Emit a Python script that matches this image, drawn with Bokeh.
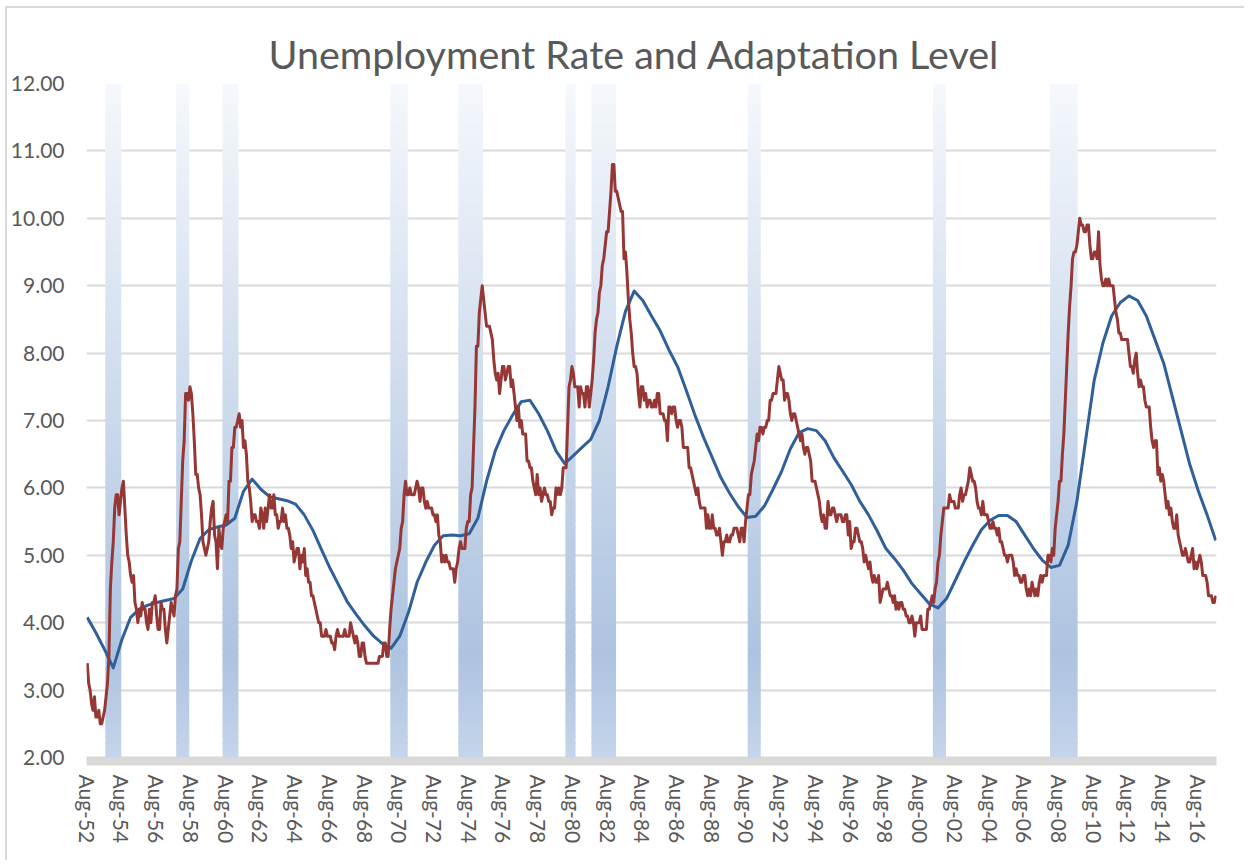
import math
from bokeh.plotting import figure
from bokeh.models import FixedTicker, Range1d, ColumnDataSource, NumeralTickFormatter
from bokeh.embed import file_html
from bokeh.resources import INLINE

title_text = "Unemployment Rate and Adaptation Level"

tick_labels = ["Aug-52", "Aug-54", "Aug-56", "Aug-58", "Aug-60", "Aug-62", "Aug-64",
               "Aug-66", "Aug-68", "Aug-70", "Aug-72", "Aug-74", "Aug-76", "Aug-78",
               "Aug-80", "Aug-82", "Aug-84", "Aug-86", "Aug-88", "Aug-90", "Aug-92",
               "Aug-94", "Aug-96", "Aug-98", "Aug-00", "Aug-02", "Aug-04", "Aug-06",
               "Aug-08", "Aug-10", "Aug-12", "Aug-14", "Aug-16"]
y_ticks = [2, 3, 4, 5, 6, 7, 8, 9, 10, 11, 12]

# Monthly unemployment rate, Aug-52 .. Aug-17
unemployment_rate = [
    3.4, 3.1, 3.0, 2.8, 2.7,                                        # 1952 Aug-Dec
    2.9, 2.6, 2.6, 2.7, 2.5, 2.5, 2.6, 2.7, 2.9, 3.1, 3.5, 4.5,     # 1953
    4.9, 5.2, 5.7, 5.9, 5.9, 5.6, 5.8, 6.0, 6.1, 5.7, 5.3, 5.0,     # 1954
    4.9, 4.7, 4.6, 4.7, 4.3, 4.2, 4.0, 4.2, 4.1, 4.3, 4.2, 4.2,     # 1955
    4.0, 3.9, 4.2, 4.0, 4.3, 4.3, 4.4, 4.1, 3.9, 3.9, 4.3, 4.2,     # 1956
    4.2, 3.9, 3.7, 3.9, 4.1, 4.3, 4.2, 4.1, 4.4, 4.5, 5.1, 5.2,     # 1957
    5.8, 6.4, 6.7, 7.4, 7.4, 7.3, 7.5, 7.4, 7.1, 6.7, 6.2, 6.2,     # 1958
    6.0, 5.9, 5.6, 5.2, 5.1, 5.0, 5.1, 5.2, 5.5, 5.7, 5.8, 5.3,     # 1959
    5.2, 4.8, 5.4, 5.2, 5.1, 5.4, 5.5, 5.6, 5.5, 6.1, 6.1, 6.6,     # 1960
    6.6, 6.9, 6.9, 7.0, 7.1, 6.9, 7.0, 6.6, 6.7, 6.5, 6.1, 6.0,     # 1961
    5.8, 5.5, 5.6, 5.6, 5.5, 5.5, 5.4, 5.7, 5.6, 5.4, 5.7, 5.5,     # 1962
    5.7, 5.9, 5.7, 5.7, 5.9, 5.6, 5.6, 5.4, 5.5, 5.5, 5.7, 5.5,     # 1963
    5.6, 5.4, 5.4, 5.3, 5.1, 5.2, 4.9, 5.0, 5.1, 5.1, 4.8, 5.0,     # 1964
    4.9, 5.1, 4.7, 4.8, 4.6, 4.6, 4.4, 4.4, 4.3, 4.2, 4.1, 4.0,     # 1965
    4.0, 3.8, 3.8, 3.8, 3.9, 3.8, 3.8, 3.8, 3.7, 3.7, 3.6, 3.8,     # 1966
    3.9, 3.8, 3.8, 3.8, 3.8, 3.9, 3.8, 3.8, 3.8, 4.0, 3.9, 3.8,     # 1967
    3.7, 3.8, 3.7, 3.5, 3.5, 3.7, 3.7, 3.5, 3.4, 3.4, 3.4, 3.4,     # 1968
    3.4, 3.4, 3.4, 3.4, 3.4, 3.5, 3.5, 3.5, 3.7, 3.7, 3.5, 3.5,     # 1969
    3.9, 4.2, 4.4, 4.6, 4.8, 4.9, 5.0, 5.1, 5.4, 5.5, 5.9, 6.1,     # 1970
    5.9, 5.9, 6.0, 5.9, 5.9, 5.9, 6.0, 6.1, 6.0, 5.8, 6.0, 6.0,     # 1971
    5.8, 5.7, 5.8, 5.7, 5.7, 5.7, 5.6, 5.6, 5.5, 5.6, 5.3, 5.2,     # 1972
    4.9, 5.0, 4.9, 5.0, 4.9, 4.9, 4.8, 4.8, 4.8, 4.6, 4.8, 4.9,     # 1973
    5.1, 5.2, 5.1, 5.1, 5.1, 5.4, 5.5, 5.5, 5.9, 6.0, 6.6, 7.2,     # 1974
    8.1, 8.1, 8.6, 8.8, 9.0, 8.8, 8.6, 8.4, 8.4, 8.4, 8.3, 8.2,     # 1975
    7.9, 7.7, 7.6, 7.7, 7.4, 7.6, 7.8, 7.8, 7.6, 7.7, 7.8, 7.8,     # 1976
    7.5, 7.6, 7.4, 7.2, 7.0, 7.2, 6.9, 7.0, 6.8, 6.8, 6.8, 6.4,     # 1977
    6.4, 6.3, 6.3, 6.1, 6.0, 5.9, 6.2, 5.9, 6.0, 5.8, 5.9, 6.0,     # 1978
    5.9, 5.9, 5.8, 5.8, 5.6, 5.7, 5.7, 6.0, 5.9, 6.0, 5.9, 6.0,     # 1979
    6.3, 6.3, 6.3, 6.9, 7.5, 7.6, 7.8, 7.7, 7.5, 7.5, 7.5, 7.2,     # 1980
    7.5, 7.4, 7.4, 7.2, 7.5, 7.5, 7.2, 7.4, 7.6, 7.9, 8.3, 8.5,     # 1981
    8.6, 8.9, 9.0, 9.3, 9.4, 9.6, 9.8, 9.8, 10.1, 10.4, 10.8, 10.8, # 1982
    10.4, 10.4, 10.3, 10.2, 10.1, 10.1, 9.4, 9.5, 9.2, 8.8, 8.5, 8.3,  # 1983
    8.0, 7.8, 7.8, 7.7, 7.4, 7.2, 7.5, 7.5, 7.3, 7.4, 7.2, 7.3,     # 1984
    7.3, 7.2, 7.2, 7.3, 7.2, 7.4, 7.4, 7.1, 7.1, 7.1, 7.0, 7.0,     # 1985
    6.7, 7.2, 7.2, 7.1, 7.2, 7.2, 7.0, 6.9, 7.0, 7.0, 6.9, 6.6,     # 1986
    6.6, 6.6, 6.6, 6.3, 6.3, 6.2, 6.1, 6.0, 5.9, 6.0, 5.8, 5.7,     # 1987
    5.7, 5.7, 5.7, 5.4, 5.6, 5.4, 5.4, 5.6, 5.4, 5.4, 5.3, 5.3,     # 1988
    5.4, 5.2, 5.0, 5.2, 5.2, 5.3, 5.2, 5.2, 5.3, 5.3, 5.4, 5.4,     # 1989
    5.4, 5.3, 5.2, 5.4, 5.4, 5.2, 5.5, 5.7, 5.9, 5.9, 6.2, 6.3,     # 1990
    6.4, 6.6, 6.8, 6.7, 6.9, 6.9, 6.8, 6.9, 6.9, 7.0, 7.0, 7.3,     # 1991
    7.3, 7.4, 7.4, 7.4, 7.6, 7.8, 7.7, 7.6, 7.6, 7.3, 7.4, 7.4,     # 1992
    7.3, 7.1, 7.0, 7.1, 7.1, 7.0, 6.9, 6.8, 6.7, 6.8, 6.6, 6.5,     # 1993
    6.6, 6.6, 6.5, 6.4, 6.1, 6.1, 6.1, 6.0, 5.9, 5.8, 5.6, 5.5,     # 1994
    5.6, 5.4, 5.4, 5.8, 5.6, 5.6, 5.7, 5.7, 5.6, 5.5, 5.6, 5.6,     # 1995
    5.6, 5.5, 5.5, 5.6, 5.6, 5.3, 5.5, 5.1, 5.2, 5.2, 5.4, 5.4,     # 1996
    5.3, 5.2, 5.2, 5.1, 4.9, 5.0, 4.9, 4.8, 4.9, 4.7, 4.6, 4.7,     # 1997
    4.6, 4.6, 4.7, 4.3, 4.4, 4.5, 4.5, 4.5, 4.6, 4.5, 4.4, 4.4,     # 1998
    4.3, 4.4, 4.2, 4.3, 4.2, 4.3, 4.3, 4.2, 4.2, 4.1, 4.1, 4.0,     # 1999
    4.0, 4.1, 4.0, 3.8, 4.0, 4.0, 4.0, 4.1, 3.9, 3.9, 3.9, 3.9,     # 2000
    4.2, 4.2, 4.3, 4.4, 4.3, 4.5, 4.6, 4.9, 5.0, 5.3, 5.5, 5.7,     # 2001
    5.7, 5.7, 5.7, 5.9, 5.8, 5.8, 5.8, 5.7, 5.7, 5.7, 5.9, 6.0,     # 2002
    5.8, 5.9, 5.9, 6.0, 6.1, 6.3, 6.2, 6.1, 6.1, 6.0, 5.8, 5.7,     # 2003
    5.7, 5.6, 5.8, 5.6, 5.6, 5.6, 5.5, 5.4, 5.4, 5.5, 5.4, 5.4,     # 2004
    5.3, 5.4, 5.2, 5.2, 5.1, 5.0, 5.0, 4.9, 5.0, 5.0, 5.0, 4.9,     # 2005
    4.7, 4.8, 4.7, 4.7, 4.6, 4.6, 4.7, 4.7, 4.5, 4.4, 4.5, 4.4,     # 2006
    4.6, 4.5, 4.4, 4.5, 4.4, 4.6, 4.7, 4.6, 4.7, 4.7, 4.7, 5.0,     # 2007
    5.0, 4.9, 5.1, 5.0, 5.4, 5.6, 5.8, 6.1, 6.1, 6.5, 6.8, 7.3,     # 2008
    7.8, 8.3, 8.7, 9.0, 9.4, 9.5, 9.5, 9.6, 9.8, 10.0, 9.9, 9.9,    # 2009
    9.8, 9.8, 9.9, 9.9, 9.6, 9.4, 9.4, 9.5, 9.5, 9.4, 9.8, 9.3,     # 2010
    9.1, 9.0, 9.0, 9.1, 9.0, 9.1, 9.0, 9.0, 9.0, 8.8, 8.6, 8.5,     # 2011
    8.3, 8.3, 8.2, 8.2, 8.2, 8.2, 8.2, 8.0, 7.8, 7.8, 7.7, 7.9,     # 2012
    8.0, 7.7, 7.5, 7.6, 7.5, 7.5, 7.3, 7.2, 7.2, 7.2, 6.9, 6.7,     # 2013
    6.6, 6.7, 6.7, 6.2, 6.3, 6.1, 6.2, 6.1, 5.9, 5.7, 5.8, 5.6,     # 2014
    5.7, 5.5, 5.4, 5.4, 5.6, 5.3, 5.2, 5.1, 5.0, 5.0, 5.1, 5.0,     # 2015
    4.9, 4.9, 5.0, 5.1, 4.8, 4.9, 4.8, 4.9, 5.0, 4.9, 4.7, 4.7,     # 2016
    4.7, 4.6, 4.4, 4.4, 4.4, 4.3, 4.3, 4.4,                         # 2017 Jan-Aug
]

# Adaptation level, read every six months (Aug / Feb) from Aug-52 to Aug-17
adaptation_level = [
    4.08, 3.85, 3.60, 3.33, 3.75, 4.08, 4.20, 4.26, 4.30, 4.33,
    4.36, 4.50, 4.92, 5.25, 5.38, 5.42, 5.45, 5.55, 5.95, 6.13,
    5.98, 5.87, 5.84, 5.81, 5.76, 5.60, 5.37, 5.08, 4.80, 4.55,
    4.30, 4.12, 3.95, 3.80, 3.69, 3.62, 3.80, 4.15, 4.60, 4.90,
    5.15, 5.29, 5.30, 5.29, 5.32, 5.55, 6.10, 6.55, 6.85, 7.08,
    7.28, 7.30, 7.10, 6.85, 6.55, 6.36, 6.48, 6.60, 6.72, 7.00,
    7.50, 8.10, 8.62, 8.92, 8.78, 8.55, 8.33, 8.05, 7.80, 7.45,
    7.08, 6.75, 6.45, 6.15, 5.92, 5.72, 5.56, 5.58, 5.73, 5.98,
    6.25, 6.58, 6.82, 6.88, 6.85, 6.70, 6.45, 6.25, 6.05, 5.80,
    5.60, 5.36, 5.10, 4.95, 4.78, 4.58, 4.43, 4.28, 4.22, 4.36,
    4.63, 4.90, 5.15, 5.38, 5.52, 5.59, 5.59, 5.50, 5.30, 5.10,
    4.93, 4.82, 4.85, 5.15, 5.80, 6.70, 7.60, 8.15, 8.55, 8.75,
    8.85, 8.78, 8.55, 8.20, 7.85, 7.35, 6.85, 6.35, 5.95, 5.60,
    5.22,
]

# Shaded recession periods (first and last month shaded)
recession_start = ["Sep-53", "Oct-57", "Jun-60", "Feb-70", "Jan-74",
                   "Mar-80", "Sep-81", "Sep-90", "May-01", "Feb-08"]
recession_end = ["Jul-54", "Jun-58", "Apr-61", "Jan-71", "May-75",
                 "Sep-80", "Jan-83", "May-91", "Jan-02", "Aug-09"]

MONTHS = ["Jan", "Feb", "Mar", "Apr", "May", "Jun",
          "Jul", "Aug", "Sep", "Oct", "Nov", "Dec"]


def month_index(label):
    mon, yy = label.split("-")
    yy = int(yy)
    year = 1900 + yy if yy >= 50 else 2000 + yy
    return (year - 1952) * 12 + (MONTHS.index(mon) + 1 - 8)


n = len(unemployment_rate)
x_red = list(range(n))
x_blue = [6 * i for i in range(len(adaptation_level))]
tick_pos = [month_index(t) for t in tick_labels]

TEXT = "#595959"
GRID = "#d9d9d9"
FONT = "Lato"

p = figure(frame_width=1130, frame_height=678,
           x_range=Range1d(-0.5, n - 0.5), y_range=Range1d(2 - 4 / 67.4, 12),
           output_backend="svg", toolbar_location=None,
           min_border_left=79, min_border_right=28, min_border_top=75, min_border_bottom=99,
           background_fill_color="white", border_fill_color="white",
           outline_line_color=None,
           styles={"border-top": "2px solid #d9d9d9", "border-left": "2px solid #d9d9d9",
                   "margin-left": "5px", "margin-top": "6px"})

p.title.text = title_text
p.title.align = "left"
p.title.offset = 182
p.title.standoff = 13
p.title.text_font = FONT
p.title.text_font_size = "39.5px"
p.title.text_font_style = "normal"
p.title.text_color = TEXT

# gradient-shaded recession bars (light at top, blue towards the bottom)
stops = [(2.0, (197, 213, 234)), (3.5, (173, 195, 224)), (12.0, (245, 248, 252))]


def grad(y):
    for (y0, c0), (y1, c1) in zip(stops[:-1], stops[1:]):
        if y0 <= y <= y1:
            t = (y - y0) / (y1 - y0)
            c = [round(a + (b - a) * t) for a, b in zip(c0, c1)]
            return "#%02x%02x%02x" % tuple(c)
    return "#%02x%02x%02x" % stops[-1][1]


nslices = 100
L, R, B, T, C = [], [], [], [], []
for s, e in zip(recession_start, recession_end):
    xs, xe = month_index(s) - 0.5, month_index(e) + 0.5
    for k in range(nslices):
        y0 = 2 + 10 * k / nslices
        y1 = 2 + 10 * (k + 1) / nslices
        L.append(xs); R.append(xe); B.append(y0); T.append(min(12, y1 + 0.02))
        C.append(grad((y0 + y1) / 2))
p.quad(left="left", right="right", bottom="bottom", top="top", fill_color="color",
       line_color=None,
       source=ColumnDataSource(dict(left=L, right=R, bottom=B, top=T, color=C)))

p.line(x_blue, adaptation_level, line_color="#30609a", line_width=3, line_join="round")
p.line(x_red, unemployment_rate, line_color="#953735", line_width=3, line_join="round")

p.xgrid.grid_line_color = None
p.ygrid.grid_line_color = GRID
p.ygrid.grid_line_width = 2
p.ygrid.ticker = FixedTicker(ticks=y_ticks)

p.xaxis.ticker = FixedTicker(ticks=tick_pos)
p.xaxis.major_label_overrides = {pos: lbl for pos, lbl in zip(tick_pos, tick_labels)}
p.xaxis.major_label_orientation = -math.pi / 2
p.xaxis.axis_line_width = 8
p.xaxis.axis_line_color = GRID
p.xaxis.major_label_standoff = 13

p.yaxis.ticker = FixedTicker(ticks=y_ticks)
p.yaxis.formatter = NumeralTickFormatter(format="0.00")
p.yaxis.axis_line_color = None
p.yaxis.major_label_standoff = 22

for ax in (p.xaxis[0], p.yaxis[0]):
    ax.major_tick_line_color = None
    ax.minor_tick_line_color = None
    ax.major_tick_out = 0
    ax.major_tick_in = 0
    ax.major_label_text_font = FONT
    ax.major_label_text_font_size = "21px"
    ax.major_label_text_color = TEXT

open("out.html", "w").write(file_html(p, INLINE))
